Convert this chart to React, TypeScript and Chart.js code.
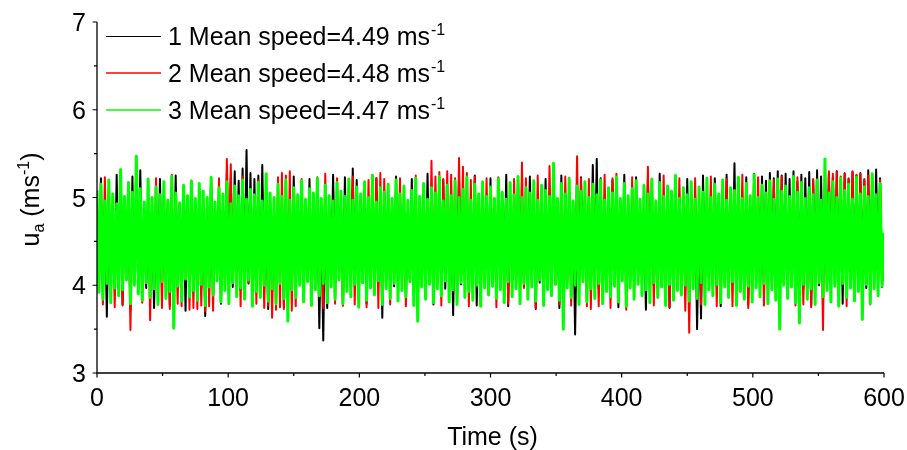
import React, { useEffect, useRef } from "react";
import { Chart, registerables } from "chart.js";

Chart.register(...registerables);

// sampling interval of the records (s)
const TIME_STEP = 1.5;

// Series 1 (black) – wind speed u_a (m/s)
const SPEED_1 = [
  4.9,4.05,5.22,3.98,4.86,3.64,4.95,4.1,4.82,4.02, 5.26,4.08,4.88,3.78,4.93,4.12,4.84,3.72,5.24,4.04, 4.91,4.0,5.31,4.09,4.87,3.97,4.96,4.13,4.83,3.74, 4.9,4.06,5.21,4.01,4.85,4.1,4.97,3.77,4.88,4.14, 5.25,4.03,4.92,3.99,4.86,3.71,4.94,4.08,4.81,4.02,
  4.89,4.11,4.95,3.97,4.84,3.65,4.92,4.07,5.23,4.0, 4.87,4.12,4.93,3.79,4.86,4.09,5.27,4.03,5.22,3.98, 5.3,4.1,5.19,3.95,5.33,4.06,5.54,4.02,5.28,3.94, 5.21,4.08,5.25,3.99,5.37,4.11,4.9,3.73,4.95,4.05, 4.85,4.0,4.93,4.12,4.88,3.76,4.96,4.07,4.82,4.01,
  5.24,4.04,4.91,4.1,4.85,3.97,4.94,4.08,5.21,4.02, 4.88,4.13,4.93,3.51,4.87,3.37,4.95,3.74,4.83,4.06, 5.26,4.0,4.9,4.11,4.86,3.77,5.23,4.05,4.92,4.09, 5.33,3.99,5.2,4.12,4.89,4.03,4.96,3.79,4.84,4.1, 4.91,4.01,5.22,4.07,4.87,3.63,4.94,4.04,4.85,4.11,
  4.9,3.99,5.24,4.06,4.86,4.12,4.93,3.97,4.82,4.08, 5.21,4.03,4.89,3.75,4.95,4.1,4.84,4.0,5.27,4.05, 4.88,3.78,4.92,4.12,4.85,4.04,5.2,3.96,4.91,4.09, 4.87,3.66,4.94,4.07,5.23,4.01,4.83,4.11,4.9,3.99, 4.86,4.05,5.25,3.77,4.92,4.1,4.88,4.02,4.95,4.08,
  5.22,4.0,4.87,4.11,4.93,3.97,4.85,4.06,5.26,3.76, 4.9,4.09,4.84,4.02,5.2,4.12,4.94,3.98,4.86,4.05, 5.24,4.1,4.89,3.73,4.92,4.03,4.83,4.11,5.21,3.99, 4.88,4.07,4.95,4.01,4.85,3.74,5.25,4.09,4.91,4.04, 4.87,3.97,4.93,3.44,4.82,4.1,5.23,4.06,4.89,4.0,
  4.94,4.08,5.37,4.02,5.44,3.96,5.22,4.11,4.88,4.05, 4.85,3.99,5.2,4.09,4.91,3.75,4.86,4.12,5.26,4.03, 4.9,4.07,4.84,3.97,5.23,4.1,4.92,4.04,4.87,3.72, 5.21,4.08,4.93,4.0,4.85,4.11,5.27,3.98,4.89,4.06, 4.94,3.74,4.83,4.1,5.24,4.02,4.9,4.08,4.86,3.99,
  5.21,4.03,4.88,4.1,4.93,3.5,4.85,3.62,5.25,4.06, 4.9,4.12,4.84,3.98,5.22,4.04,4.92,3.76,4.87,4.09, 5.26,4.01,4.9,4.11,5.39,3.97,5.2,4.07,4.86,4.02, 5.23,3.78,4.91,4.1,5.27,4.05,4.89,3.99,5.24,4.08, 5.19,4.03,5.28,3.96,5.22,4.11,5.3,4.0,5.25,4.06,
  5.27,3.98,5.21,4.09,5.3,4.02,5.18,4.11,5.26,3.97, 5.22,4.06,5.29,3.77,5.2,4.08,5.31,4.0,5.24,4.1, 5.17,3.96,5.28,4.07,5.23,4.01,5.3,4.12,5.19,3.79, 5.27,4.05,5.21,3.99,5.29,4.09,5.25,4.03,5.28,4.1, 5.2,3.97,5.31,4.06,5.24,4.0,5.32,4.08,5.22,3.98, 4.4,
];

// Series 2 (red)
const SPEED_2 = [
  4.88,4.07,4.94,3.78,5.23,4.11,4.86,4.02,4.92,3.75, 4.84,4.09,5.21,3.77,4.9,4.12,4.87,3.49,4.95,4.05, 5.25,3.97,4.89,3.8,4.83,4.03,4.93,3.6,4.86,4.08, 5.22,4.01,4.91,3.74,4.85,4.11,4.94,3.73,5.26,4.06, 4.88,3.79,4.92,3.76,4.87,4.1,4.95,3.72,4.84,3.74,
  4.9,3.73,4.86,3.77,4.93,3.7,4.88,3.76,4.84,3.71, 4.91,4.08,5.22,4.02,4.87,4.11,5.44,4.3,5.38,4.05, 4.92,4.1,4.85,3.76,5.24,4.07,4.9,4.03,4.86,4.12, 4.94,3.79,5.2,4.09,4.88,3.74,4.93,3.77,4.85,3.63, 4.9,3.72,5.23,3.75,5.28,3.73,5.25,3.78,5.3,3.71,
  4.92,3.76,4.87,4.08,5.21,4.02,4.89,4.11,4.94,3.8, 4.86,4.06,5.23,4.1,4.91,3.74,5.27,4.03,4.85,4.09, 4.9,3.79,5.22,4.12,4.87,3.77,4.93,4.05,4.84,4.1, 5.24,3.78,4.92,4.07,4.88,4.11,4.95,3.75,5.2,4.04, 5.26,4.09,5.22,3.74,5.28,4.06,5.21,4.1,4.89,3.78,
  4.93,4.08,4.86,4.11,5.22,4.0,4.9,3.76,4.85,4.07, 4.92,4.12,5.25,3.79,4.88,3.99,4.94,4.09,4.87,4.05, 5.42,4.1,5.24,4.02,5.29,3.77,5.21,4.08,5.3,4.11, 5.26,4.04,5.22,3.8,5.45,4.07,5.35,4.1,5.28,3.76, 5.2,4.05,5.24,4.11,4.91,3.78,4.87,4.08,5.22,4.03,
  4.86,4.1,4.92,3.75,5.23,4.04,4.88,4.11,4.93,3.79, 4.85,4.07,5.21,4.02,4.9,4.12,5.4,3.97,5.22,4.08, 4.87,4.03,4.94,3.74,5.25,4.1,4.89,4.05,4.84,4.11, 5.36,4.0,5.2,4.09,4.91,3.78,4.86,4.06,5.24,4.12, 4.9,3.77,4.93,4.08,5.47,3.98,5.22,4.1,4.87,3.76,
  5.21,3.73,4.88,4.07,4.93,3.76,4.85,4.11,5.26,4.02, 4.9,3.74,5.22,4.09,5.27,4.04,4.87,4.12,4.92,3.72, 4.86,4.0,5.23,4.1,4.89,4.05,4.94,4.11,4.84,4.03, 5.35,4.08,5.2,3.77,4.91,4.1,4.88,4.01,5.25,4.07, 4.86,3.75,4.92,4.11,4.87,4.04,5.22,4.09,4.9,3.71,
  4.93,3.46,4.86,4.06,5.22,4.1,4.89,3.78,4.92,4.03, 4.85,4.11,5.24,4.07,4.9,3.76,4.94,4.09,4.87,4.02, 5.21,4.12,4.88,3.76,4.93,4.06,4.86,4.1,5.26,4.04, 4.91,3.74,4.87,4.08,4.95,4.11,5.23,4.0,4.84,3.77, 4.92,4.1,4.89,4.05,5.2,4.08,4.86,3.79,5.24,4.12,
  4.9,4.03,4.94,4.09,4.87,3.77,5.23,4.11,4.91,3.78, 4.88,4.08,4.93,3.75,5.21,4.1,4.86,4.04,4.92,3.49, 5.25,4.07,5.3,4.0,5.27,4.11,5.29,3.77,5.24,4.09, 5.28,3.76,5.22,4.1,5.3,4.03,5.26,4.08,5.27,4.01, 5.21,4.11,5.25,3.78,5.22,4.06,4.91,4.1,5.2,4.05, 4.5,
];

// Series 3 (green)
const SPEED_3 = [
  5.08,3.92,5.15,3.84,4.96,4.02,5.2,3.8,5.04,3.97, 4.93,3.88,5.32,3.95,5.01,4.06,5.17,3.79,5.06,4.0, 5.47,3.9,5.1,3.83,4.95,4.03,5.21,3.86,5.0,3.96, 5.12,3.78,5.03,4.04,5.18,3.85,4.97,3.93,5.24,3.51, 5.05,3.99,4.94,3.82,5.14,4.07,5.02,3.87,5.19,3.94,
  4.99,3.83,5.16,4.01,5.07,3.77,5.0,3.98,5.23,3.89, 4.95,4.05,5.11,3.81,5.04,3.94,5.18,3.79,4.93,4.03, 5.13,3.87,5.02,3.97,5.2,3.84,4.98,4.06,5.09,3.76, 5.03,3.93,5.17,3.86,4.96,4.0,5.27,3.82,5.05,3.96, 5.0,3.79,5.15,4.02,5.01,3.85,5.2,3.59,4.97,3.95,
  5.11,3.86,5.03,4.0,5.19,3.81,4.98,4.04,5.1,3.77, 5.05,3.95,5.22,3.88,4.99,4.02,5.14,3.8,5.02,3.98, 4.96,3.84,5.17,4.06,5.07,3.79,5.01,3.93,5.21,3.87, 4.97,4.01,5.12,3.75,5.04,4.03,5.18,3.83,5.0,3.97, 5.25,3.89,4.95,4.05,5.11,3.78,5.06,3.96,5.15,3.85,
  4.99,4.02,5.2,3.82,5.04,3.94,5.13,3.87,4.97,4.04, 5.08,3.77,5.22,3.59,5.01,3.98,5.16,3.84,4.98,4.01, 5.11,3.8,5.05,3.96,5.24,3.88,4.96,4.05,5.14,3.81, 5.02,3.95,5.19,3.78,5.0,4.03,5.09,3.86,5.23,3.93, 4.97,3.83,5.15,4.0,5.04,3.76,5.18,3.97,5.01,3.89,
  5.12,3.99,4.99,3.85,5.21,3.95,5.06,3.8,4.98,4.04, 5.17,3.87,5.03,3.96,5.24,3.79,5.0,4.02,5.11,3.84, 5.05,3.98,5.19,3.82,4.97,4.06,5.14,3.77,5.08,3.95, 5.01,3.88,5.39,4.01,4.99,3.83,5.16,3.5,5.04,3.97, 5.22,3.86,4.96,4.0,5.13,3.78,5.07,4.04,5.18,3.81,
  5.0,3.96,5.15,3.85,5.03,4.02,5.2,3.79,4.97,3.93, 5.11,3.87,5.05,3.99,5.23,3.81,4.99,4.05,5.16,3.76, 5.02,3.97,5.1,3.84,5.19,4.01,4.98,3.88,5.14,3.95, 5.04,3.8,5.21,4.03,4.96,3.86,5.17,3.98,5.01,3.77, 5.13,4.01,5.07,3.83,5.25,3.94,4.99,3.89,5.11,4.0,
  5.03,3.82,5.18,3.96,4.98,3.85,5.12,4.03,5.06,3.78, 5.22,3.95,5.0,3.88,5.15,4.01,5.04,3.8,5.2,3.98, 4.97,3.86,5.11,4.04,5.08,3.77,5.23,3.93,4.99,3.84, 5.16,3.99,5.02,3.81,5.26,3.97,5.0,3.87,5.14,4.02, 5.05,3.79,5.19,3.95,4.98,3.83,5.21,3.5,5.07,4.0,
  5.13,3.85,5.01,3.98,5.24,3.8,5.06,3.57,5.17,4.01, 4.99,3.84,5.11,3.96,5.03,3.78,5.2,4.03,4.97,3.87, 5.44,3.94,5.05,3.81,5.18,3.99,5.0,3.76,5.22,4.02, 5.08,3.86,5.15,3.97,4.98,3.82,5.23,3.93,5.04,3.61, 5.12,4.01,5.01,3.79,5.27,3.96,5.03,3.88,5.16,3.99, 4.6,
];

const SERIES_NAMES = ["1 Mean speed=4.49 ms", "2 Mean speed=4.48 ms", "3 Mean speed=4.47 ms"];
const SERIES_COLORS = ["#000000", "#ff0000", "#00ff00"];
const SERIES_WIDTHS = [2.0, 2.0, 3.0];
const Y_TICKS = [3, 4, 5, 6, 7];
const Y_MINOR = [3.5, 4.5, 5.5, 6.5];
const X_TICKS = [0, 100, 200, 300, 400, 500, 600];
const X_MINOR = [50, 150, 250, 350, 450, 550];
const X_TITLE = "Time (s)";

const FONT = '"Liberation Sans", Arial, sans-serif';
const FS = 25;

const toPoints = (arr: number[]) => arr.map((v, i) => ({ x: i * TIME_STEP, y: v }));

const customAxes = {
  id: "customAxes",
  afterDraw(chart: any) {
    const { ctx, chartArea: a, scales } = chart;
    const xs = scales.x;
    const ys = scales.y;
    ctx.save();
    ctx.strokeStyle = "#000";
    ctx.fillStyle = "#000";
    ctx.lineWidth = 1.3;
    ctx.beginPath();
    ctx.moveTo(a.left, a.top);
    ctx.lineTo(a.left, a.bottom);
    ctx.lineTo(a.right, a.bottom);
    ctx.stroke();
    ctx.lineWidth = 1.2;
    ctx.beginPath();
    Y_TICKS.forEach((v) => {
      const py = ys.getPixelForValue(v);
      ctx.moveTo(a.left, py);
      ctx.lineTo(a.left - 4.5, py);
    });
    Y_MINOR.forEach((v) => {
      const py = ys.getPixelForValue(v);
      ctx.moveTo(a.left, py);
      ctx.lineTo(a.left - 3, py);
    });
    X_TICKS.forEach((v) => {
      const px = xs.getPixelForValue(v);
      ctx.moveTo(px, a.bottom);
      ctx.lineTo(px, a.bottom + 4.5);
    });
    X_MINOR.forEach((v) => {
      const px = xs.getPixelForValue(v);
      ctx.moveTo(px, a.bottom);
      ctx.lineTo(px, a.bottom + 3);
    });
    ctx.stroke();

    ctx.font = `${FS}px ${FONT}`;
    ctx.textBaseline = "alphabetic";
    ctx.textAlign = "right";
    Y_TICKS.forEach((v) => {
      const py = ys.getPixelForValue(v);
      ctx.fillText(String(v), a.left - 11, py + 9);
    });
    ctx.textAlign = "center";
    X_TICKS.forEach((v) => {
      const px = xs.getPixelForValue(v);
      ctx.fillText(String(v), px, a.bottom + 32.5);
    });

    ctx.fillText(X_TITLE, (a.left + a.right) / 2 + 2, 445);

    ctx.save();
    ctx.translate(39, (a.top + a.bottom) / 2 + 2);
    ctx.rotate(-Math.PI / 2);
    ctx.textAlign = "left";
    const parts = [
      { t: "u", size: FS, dy: 0 },
      { t: "a", size: 16, dy: 5 },
      { t: " (ms", size: FS, dy: 0 },
      { t: "-1", size: 16, dy: -10 },
      { t: ")", size: FS, dy: 0 },
    ];
    let total = 0;
    parts.forEach((p) => {
      ctx.font = `${p.size}px ${FONT}`;
      total += ctx.measureText(p.t).width;
    });
    let cx = -total / 2;
    parts.forEach((p) => {
      ctx.font = `${p.size}px ${FONT}`;
      ctx.fillText(p.t, cx, p.dy);
      cx += ctx.measureText(p.t).width;
    });
    ctx.restore();

    SERIES_NAMES.forEach((name, i) => {
      const ly = 36 + 37 * i;
      ctx.strokeStyle = SERIES_COLORS[i];
      ctx.lineWidth = i === 0 ? 1.1 : 1.4;
      ctx.beginPath();
      const yy = i === 0 ? ly + 0.5 : ly;
      ctx.moveTo(106, yy);
      ctx.lineTo(161, yy);
      ctx.stroke();
      ctx.textAlign = "left";
      ctx.font = `${FS}px ${FONT}`;
      ctx.fillStyle = "#000";
      ctx.fillText(name, 168, ly + 9);
      const w = ctx.measureText(name).width;
      ctx.font = `16px ${FONT}`;
      ctx.fillText("-1", 168 + w + 1, ly - 1);
    });
    ctx.restore();
  },
};

export default function App() {
  const ref = useRef<HTMLCanvasElement | null>(null);
  useEffect(() => {
    document.body.style.margin = "0";
    const canvas = ref.current;
    if (!canvas) return;
    const series = [SPEED_1, SPEED_2, SPEED_3];
    const chart = new Chart(canvas, {
      type: "line",
      data: {
        datasets: series.map((s, i) => ({
          label: SERIES_NAMES[i],
          data: toPoints(s),
          borderColor: SERIES_COLORS[i],
          backgroundColor: SERIES_COLORS[i],
          borderWidth: SERIES_WIDTHS[i],
          borderJoinStyle: "round" as const,
          pointRadius: 0,
          tension: 0,
          fill: false,
          order: 2 - i,
        })),
      },
      options: {
        animation: false,
        responsive: false,
        maintainAspectRatio: false,
        devicePixelRatio: 1,
        events: [],
        layout: { padding: { top: 22, right: 23, left: 0, bottom: 0 } },
        plugins: { legend: { display: false }, tooltip: { enabled: false }, title: { display: false } },
        scales: {
          x: {
            type: "linear",
            min: 0,
            max: 600,
            grid: { display: false },
            border: { display: false },
            ticks: { display: false },
            afterFit: (s: any) => {
              s.height = 77;
            },
          },
          y: {
            type: "linear",
            min: 3,
            max: 7,
            grid: { display: false },
            border: { display: false },
            ticks: { display: false },
            afterFit: (s: any) => {
              s.width = 97;
            },
          },
        },
      },
      plugins: [customAxes],
    });
    return () => chart.destroy();
  }, []);
  return (
    <div style={{ position: "fixed", left: 0, top: 0, width: 907, height: 450, background: "#fff" }}>
      <canvas ref={ref} width={907} height={450} style={{ width: 907, height: 450, display: "block" }} />
    </div>
  );
}
